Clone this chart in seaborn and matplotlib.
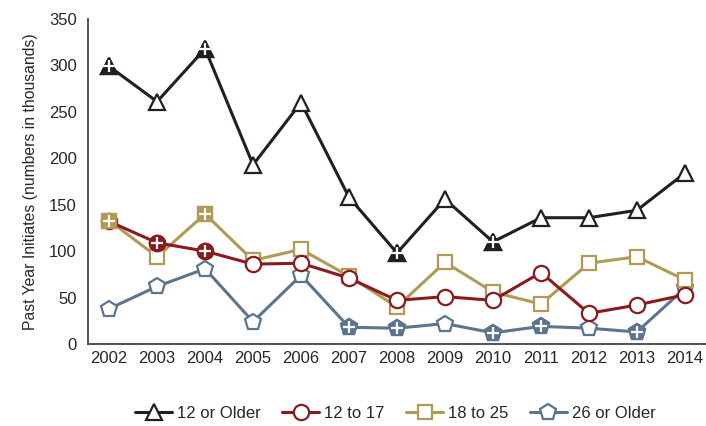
import matplotlib
matplotlib.use("Agg")
import matplotlib.pyplot as plt
import seaborn as sns
import pandas as pd
from matplotlib.lines import Line2D

years = [2002, 2003, 2004, 2005, 2006, 2007, 2008, 2009, 2010, 2011, 2012, 2013, 2014]
older12 = [299, 261, 318, 193, 260, 158, 98, 156, 110, 136, 136, 144, 184]
age12_17 = [132, 109, 100, 86, 87, 71, 47, 51, 47, 77, 33, 42, 53]
age18_25 = [133, 94, 140, 90, 102, 73, 40, 88, 56, 43, 87, 94, 69]
older26 = [38, 62, 81, 24, 74, 18, 17, 22, 12, 19, 17, 13, 60]
labels = ["12 or Older", "12 to 17", "18 to 25", "26 or Older"]
sig_older12 = [2002, 2004, 2008, 2010]
sig_12_17 = [2003, 2004]
sig_18_25 = [2002, 2004]
sig_older26 = [2007, 2008, 2010, 2011, 2013]

sns.set_style("white")
plt.rcParams['font.family'] = ['Liberation Sans', 'DejaVu Sans']

colors = ["#231f20", "#8b1a1e", "#b09a55", "#5b7590"]
markers = ["^", "o", "s", "p"]
msizes = [12, 11, 10, 12]
series = [older12, age12_17, age18_25, older26]
sigs = [sig_older12, sig_12_17, sig_18_25, sig_older26]

fig = plt.figure(figsize=(7.06, 4.26), dpi=100)
ax = fig.add_axes([88/706, 1-344/426, 1-88/706, (344-19)/426])

order = [3, 2, 1, 0]
for z, i in enumerate(order):
    df = pd.DataFrame({"year": years, "val": series[i]})
    sns.lineplot(data=df, x="year", y="val", ax=ax, color=colors[i], lw=2.2,
                 marker=markers[i], markersize=msizes[i], markerfacecolor="white",
                 markeredgecolor=colors[i], markeredgewidth=1.6, zorder=2+z)

for i in order:
    xs = [y for y in years if y in sigs[i]]
    vs = [series[i][years.index(y)] for y in xs]
    ax.plot(xs, vs, ls="none", marker=markers[i], ms=msizes[i], mfc=colors[i],
            mec=colors[i], mew=1.6, zorder=10)
    ax.plot(xs, vs, ls="none", marker="+", ms=8.5, mec="white", mew=1.6, zorder=11)

ax.set_xlim(2001.56, 2014.44)
ax.set_ylim(0, 350)
ax.set_xticks(years)
ax.set_xticklabels([str(y) for y in years], fontsize=12)
ax.set_yticks(range(0, 351, 50))
ax.tick_params(axis='y', labelsize=12, length=0, pad=8)
ax.tick_params(axis='x', length=0, pad=5)
ax.set_xlabel("")
ax.set_ylabel("Past Year Initiates (numbers in thousands)", fontsize=11.3, labelpad=8)
for s in ["top", "right"]:
    ax.spines[s].set_visible(False)
for s in ["left", "bottom"]:
    ax.spines[s].set_color("#444444")
    ax.spines[s].set_linewidth(1.3)

handles = [Line2D([0], [0], color=colors[i], lw=2.2, marker=markers[i], ms=msizes[i],
                  mfc="white", mec=colors[i], mew=1.6) for i in range(4)]
fig.legend(handles, labels, loc="center", bbox_to_anchor=(0.56, 1-413/426), ncol=4,
           frameon=False, fontsize=12, handlelength=2.2, handletextpad=0.3, columnspacing=1.3)

fig.savefig("out.png", dpi=100)
